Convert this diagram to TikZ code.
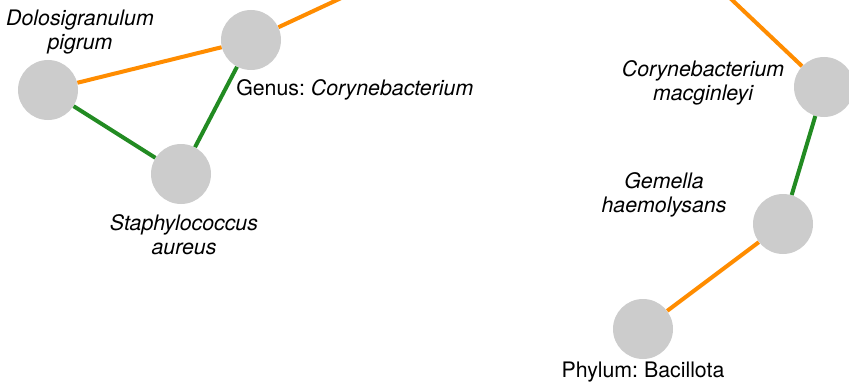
\documentclass[tikz,border=0pt]{standalone}
\usepackage{fontspec}
\setmainfont{TeX Gyre Heros}
\usepackage{xcolor}
\usetikzlibrary{positioning}
\frenchspacing
\definecolor{nodegray}{HTML}{CCCCCC}
\definecolor{edgeorange}{HTML}{FF8C00}
\definecolor{edgegreen}{HTML}{228B22}
\tikzstyle{taxon} = [circle, minimum size=45pt, inner sep=0pt, fill=nodegray, draw=none]
\tikzstyle{txt} = [font=\fontsize{16}{18}\selectfont, align=center, inner sep=0pt]
\tikzstyle{posedge} = [draw=edgeorange, line width=3pt]
\tikzstyle{negedge} = [draw=edgegreen, line width=3pt]

\begin{document}
\begin{tikzpicture}[x=0.75pt, y=-0.75pt]
    \useasboundingbox (0,0) rectangle (849,385);
    \clip (0,0) rectangle (849,385);

    % left cluster
    \node[taxon] (dolo) at (48,90) {};
    \node[taxon] (coryne) at (251,40) {};
    \node[taxon] (staph) at (181,174) {};
    \coordinate (coryneout) at (380,-20);

    \node[txt] (dololbl) at (80,32) {\itshape Dolosigranulum\\\itshape pigrum};
    \node[txt, anchor=west] (corynelbl) at (236,90) {Genus: \textit{Corynebacterium}};
    \node[txt] (staphlbl) at (184,235) {\itshape Staphylococcus\\\itshape aureus};

    \draw[posedge] (dolo) -- (coryne);
    \draw[posedge] (coryne) -- (coryneout);
    \draw[negedge] (dolo) -- (staph);
    \draw[negedge] (coryne) -- (staph);

    % right chain
    \node[taxon] (cmac) at (824,87) {};
    \node[taxon] (gemella) at (783,224) {};
    \node[taxon] (bacil) at (643,329) {};
    \coordinate (cmacout) at (711,-20);

    \node[txt] (cmaclbl) at (703,83) {\itshape Corynebacterium\\\itshape macginleyi};
    \node[txt] (gemellalbl) at (664,195) {\itshape Gemella\\\itshape haemolysans};
    \node[txt] (bacillbl) at (643,372) {Phylum: Bacillota};

    \draw[posedge] (cmac) -- (cmacout);
    \draw[negedge] (cmac) -- (gemella);
    \draw[posedge] (gemella) -- (bacil);
\end{tikzpicture}
\end{document}
